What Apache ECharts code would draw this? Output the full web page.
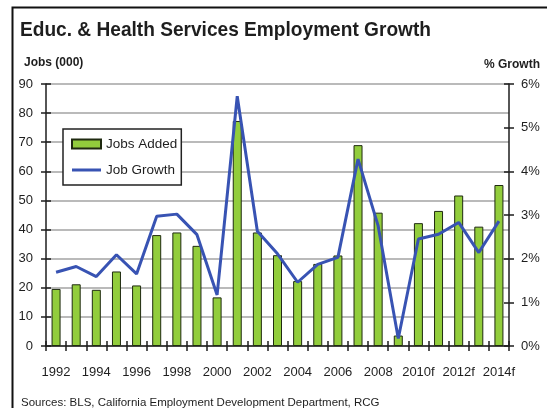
<!DOCTYPE html>
<html>
<head>
<meta charset="utf-8">
<script src="https://cdn.jsdelivr.net/npm/echarts@6/dist/echarts.min.js"></script>
<style>
  html, body { margin: 0; padding: 0; background: #fff; }
  #chart { width: 547px; height: 408px; }
</style>
</head>
<body>
<div id="chart"></div>
<script>
// Years on the category axis (forecast years carry an "f")
const years = ['1992', '1993', '1994', '1995', '1996', '1997', '1998', '1999', '2000', '2001',
  '2002', '2003', '2004', '2005', '2006', '2007', '2008', '2009', '2010f', '2011f',
  '2012f', '2013f', '2014f'];

// Jobs added, thousands
const jobsAdded = [19.6, 21.2, 19.3, 25.6, 20.8, 38.1, 39.0, 34.4, 16.7, 77.3,
  39.0, 31.2, 22.3, 28.2, 31.1, 69.0, 45.8, 3.6, 42.2, 46.4,
  51.7, 41.0, 55.3];

// Year-over-year job growth, percent
const jobGrowth = [1.69, 1.82, 1.59, 2.09, 1.65, 2.97, 3.02, 2.55, 1.17, 5.72,
  2.63, 2.11, 1.46, 1.87, 2.03, 4.28, 2.75, 0.17, 2.45, 2.56,
  2.83, 2.14, 2.86];

// Axis scales
const jobsAxis = { min: 0, max: 90, step: 10 };
const growthAxis = { min: 0, max: 6, step: 1 };

const FONT = "'Liberation Sans', Arial, sans-serif";
const INK = '#1e1e1e';
const BAR_GREEN = '#92cd3c';
const LINE_BLUE = '#3853b3';

const chart = echarts.init(document.getElementById('chart'), null, { renderer: 'canvas' });

const gridBox = { left: 46, right: 38, top: 84, bottom: 62 };

// A bare axis used only to draw the inner halves of the crossing tick marks
function innerY(position, scale) {
  return {
    type: 'value', position: position, min: scale.min, max: scale.max, interval: scale.step,
    axisLine: { show: false },
    axisTick: { show: true, inside: true, length: 5, lineStyle: { color: INK, width: 1.5 } },
    axisLabel: { show: false }, splitLine: { show: false }
  };
}

chart.setOption({
  animation: false,
  backgroundColor: '#ffffff',
  textStyle: { fontFamily: FONT },
  graphic: [
    {
      type: 'rect', left: 10, top: 5, z: 100, silent: true,
      shape: { width: 600, height: 500 },
      style: { fill: 'none', stroke: '#111', lineWidth: 2 }
    },
    {
      // condensed bold heading
      type: 'text', x: 20, y: 20, scaleX: 0.91, z: 100, silent: true,
      style: {
        text: 'Educ. & Health Services Employment Growth',
        font: "bold 21px 'Liberation Sans', Arial, sans-serif",
        fill: INK, textVerticalAlign: 'top', textAlign: 'left'
      }
    }
  ],
  title: [
    { text: 'Jobs (000)', left: 19, top: 52,
      textStyle: { fontFamily: FONT, fontSize: 12, fontWeight: 'bold', color: INK } },
    { text: '% Growth', right: 2, top: 54,
      textStyle: { fontFamily: FONT, fontSize: 12, fontWeight: 'bold', color: INK } },
    { text: 'Sources: BLS, California Employment Development Department, RCG', left: 16, top: 392,
      textStyle: { fontFamily: FONT, fontSize: 11.5, fontWeight: 'normal', color: INK } }
  ],
  legend: {
    left: 63, top: 129, orient: 'vertical',
    backgroundColor: '#ffffff', borderColor: '#222', borderWidth: 1.5,
    padding: [8, 4, 8, 8], itemGap: 12, itemWidth: 29, itemHeight: 9,
    textStyle: { fontFamily: FONT, fontSize: 13.5, color: INK },
    data: [
      { name: 'Jobs Added', icon: 'rect' },
      { name: 'Job Growth', icon: 'path://M0,0H29V3H0Z',
        itemStyle: { color: LINE_BLUE, borderWidth: 0 } }
    ]
  },
  grid: gridBox,
  xAxis: [
    {
      type: 'category', data: years, boundaryGap: true,
      axisLine: { lineStyle: { color: INK, width: 1.5 } },
      axisTick: { show: true, length: 5, interval: 0, lineStyle: { color: INK, width: 1.5 } },
      axisLabel: { interval: 1, margin: 20, fontSize: 13, color: INK, fontFamily: FONT }
    },
    {
      type: 'category', data: years, position: 'bottom', boundaryGap: true,
      axisLine: { show: false },
      axisTick: { show: true, inside: true, length: 5, interval: 0, lineStyle: { color: INK, width: 1.5 } },
      axisLabel: { show: false }
    }
  ],
  yAxis: [
    {
      type: 'value', position: 'left', min: jobsAxis.min, max: jobsAxis.max, interval: jobsAxis.step,
      axisLine: { show: true, lineStyle: { color: INK, width: 1.5 } },
      axisTick: { show: true, length: 5, lineStyle: { color: INK, width: 1.5 } },
      axisLabel: { margin: 13, fontSize: 13, color: INK, fontFamily: FONT },
      splitLine: { show: true, lineStyle: { color: '#a3a3a3', width: 1.5 } }
    },
    {
      type: 'value', position: 'right', min: growthAxis.min, max: growthAxis.max, interval: growthAxis.step,
      axisLine: { show: true, lineStyle: { color: INK, width: 1.5 } },
      axisTick: { show: true, length: 5, lineStyle: { color: INK, width: 1.5 } },
      axisLabel: { margin: 12, fontSize: 13, color: INK, fontFamily: FONT, formatter: '{value}%' },
      splitLine: { show: false }
    },
    innerY('left', jobsAxis),
    innerY('right', growthAxis)
  ],
  series: [
    {
      name: 'Jobs Added', type: 'bar', xAxisIndex: 0, yAxisIndex: 0,
      data: jobsAdded, barWidth: 9,
      itemStyle: { color: BAR_GREEN, borderColor: '#1f2a10', borderWidth: 1 }
    },
    {
      name: 'Job Growth', type: 'line', xAxisIndex: 0, yAxisIndex: 1,
      data: jobGrowth, symbol: 'none', z: 5,
      lineStyle: { color: LINE_BLUE, width: 3 },
      itemStyle: { color: LINE_BLUE }
    }
  ]
});
</script>
</body>
</html>
